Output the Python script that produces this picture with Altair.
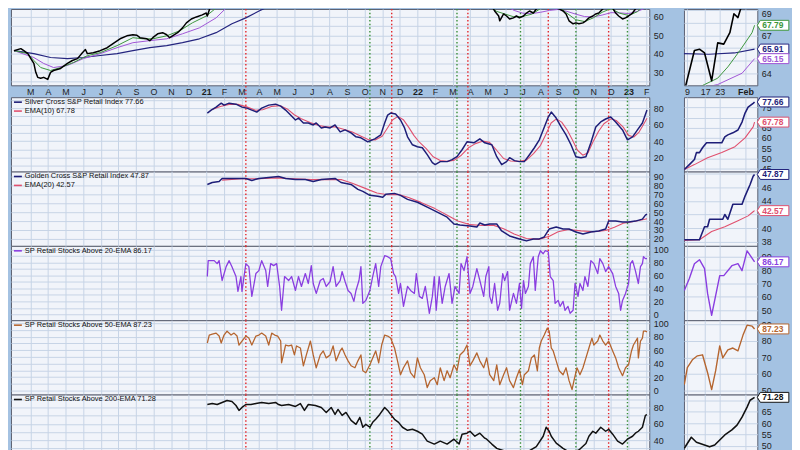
import json
import altair as alt
import pandas as pd

# ---------------- data ----------------
MONTH_TICKS = list(range(-10, 26))  # months since Jan 2021
MONTH_LABELS = ["M", "A", "M", "J", "J", "A", "S", "O", "N", "D", "21",
                "F", "M", "A", "M", "J", "J", "A", "S", "O", "N", "D", "22",
                "F", "M", "A", "M", "J", "J", "A", "S", "O", "N", "D", "23", "F"]
MINI_TICKS = [1, 6, 10, 17]          # trading-day index (Jan 2023)
MINI_LABELS = ["9", "17", "23", "Feb"]

RED_SIGNALS = [2.25, 10.54, 14.87, 19.44, 22.87]
GREEN_SIGNALS = [9.30, 14.25, 17.86, 21.01, 23.94]

# top panel: price + EMAs (month index, value)
PRICE = [(-10.93, 41.8), (-10.54, 42.9), (-10.37, 41.8), (-10.14, 40.2), (-9.97, 37.5), (-9.80, 34.9),
         (-9.69, 30.1), (-9.58, 27.4), (-9.41, 26.9), (-9.24, 27.4), (-9.01, 26.3), (-8.85, 30.1),
         (-8.68, 31.1), (-8.28, 32.2), (-7.89, 34.9), (-7.61, 36.5), (-7.32, 37.5), (-7.04, 40.7),
         (-6.87, 42.4), (-6.76, 40.2), (-6.42, 40.7), (-6.03, 41.8), (-5.63, 43.4), (-5.30, 45.6),
         (-4.90, 48.2), (-4.51, 49.8), (-4.17, 50.4), (-3.94, 50.1), (-3.77, 48.8), (-3.38, 48.2),
         (-3.21, 47.2), (-3.04, 48.8), (-2.76, 50.9), (-2.48, 51.5), (-2.25, 50.4), (-2.08, 48.8),
         (-1.92, 49.8), (-1.63, 51.5), (-1.35, 54.1), (-1.13, 56.8), (-0.85, 58.9), (-0.56, 60.0),
         (-0.23, 61.1), (0.00, 62.1), (0.06, 60.5), (0.28, 66.9), (0.45, 72.0), (1.0, 88), (1.5, 85),
         (2.0, 88), (2.5, 92), (3.0, 90), (3.5, 92), (4.0, 93), (4.5, 90), (5.0, 94), (5.5, 96),
         (6.0, 93), (6.5, 94), (7.0, 90), (7.5, 92), (8.0, 88), (8.5, 90), (9.0, 88), (9.5, 92),
         (10.0, 96), (10.3, 100), (10.7, 98), (11.0, 92), (11.5, 88), (12.0, 84), (12.5, 78),
         (13.0, 80), (13.5, 82), (14.0, 80), (14.5, 74), (15.0, 72), (15.5, 70), (15.9, 71),
         (16.11, 68.6), (16.23, 65.9), (16.39, 63.2), (16.62, 60.5), (16.68, 57.9), (16.90, 61.6),
         (17.07, 60.5), (17.24, 58.9), (17.46, 59.5), (17.63, 60.5), (17.80, 59.5), (18.03, 60.5),
         (18.20, 62.1), (18.37, 63.2), (18.59, 62.1), (18.76, 64.3), (18.93, 66.9), (19.15, 69.6),
         (19.32, 67.5), (19.49, 69.1), (19.72, 66.9), (19.89, 64.8), (20.06, 64.3), (20.28, 63.2),
         (20.45, 61.6), (20.62, 57.9), (20.85, 56.3), (21.01, 56.8), (21.18, 56.3), (21.41, 56.8),
         (21.58, 57.9), (21.75, 59.5), (21.97, 60.5), (22.14, 61.6), (22.31, 62.1), (22.59, 64.8),
         (22.87, 65.9), (23.10, 64.8), (23.27, 62.1), (23.44, 60.5), (23.66, 58.9), (23.83, 59.5),
         (24.00, 60.5), (24.23, 62.1), (24.39, 64.3), (24.68, 66.9), (24.85, 68.6), (25.07, 71.2)]
EMA20 = [(-10.93, 41.8), (-10.14, 40.2), (-9.80, 36.5), (-9.41, 32.7), (-8.85, 31.1), (-8.28, 32.7),
         (-7.55, 35.4), (-6.76, 39.1), (-6.03, 40.7), (-5.07, 44.5), (-4.17, 48.8), (-3.61, 48.2),
         (-3.04, 48.2), (-2.25, 49.8), (-1.52, 52.5), (-0.79, 56.8), (0.0, 60.5), (0.56, 64.8),
         (0.85, 68.6), (1.5, 82), (2.5, 88), (3.5, 90), (4.5, 91), (5.5, 94), (6.5, 93), (7.5, 91),
         (8.5, 89), (9.5, 90), (10.5, 96), (11.2, 94), (12.0, 86), (13.0, 80), (14.0, 80), (15.0, 73),
         (15.8, 68), (16.5, 63), (17.0, 61.5), (17.5, 60), (18.0, 60.3), (18.5, 61.5), (19.0, 64.5),
         (19.5, 66.5), (20.0, 65.5), (20.5, 62), (21.0, 58.5), (21.5, 57.5), (22.0, 59.5), (22.5, 62.5),
         (23.0, 64.5), (23.5, 62), (24.0, 60.8), (24.5, 62.8), (25.07, 67.79)]
EMA50 = [(-10.93, 41.8), (-9.80, 38.1), (-9.24, 34.9), (-8.68, 32.7), (-7.89, 33.8), (-6.99, 37.5),
         (-6.03, 40.2), (-5.07, 43.4), (-4.17, 46.1), (-3.21, 47.2), (-2.25, 48.2), (-1.35, 50.9),
         (-0.39, 54.1), (0.56, 59.5), (1.13, 64.8), (1.46, 68.6), (2, 74), (3, 82), (4, 87), (5, 90),
         (6, 92), (7, 92), (8, 91), (9, 90), (10, 92), (11, 94), (12, 90), (13, 85), (14, 82), (15, 76),
         (16, 70), (16.5, 68), (17, 66), (17.5, 63.5), (18, 62), (18.5, 61.8), (19, 62.5), (19.5, 63.5),
         (20, 64), (20.5, 63), (21, 61.5), (21.5, 60.2), (22, 60), (22.5, 61), (23, 62.3), (23.5, 62.2),
         (24, 61.8), (24.5, 63), (25.07, 65.15)]
EMA200 = [(-10.93, 41.8), (-9.80, 40.2), (-8.85, 38.1), (-7.89, 37.5), (-6.99, 38.1), (-6.03, 39.2),
          (-5.07, 40.2), (-4.17, 41.8), (-3.21, 43.4), (-2.25, 44.5), (-1.35, 46.1), (-0.39, 48.2),
          (0.56, 51.5), (1.46, 56.3), (2.25, 59.5), (3.0, 63.2), (3.72, 66.4), (4.23, 68.6), (5, 72),
          (6, 76), (7, 79), (8, 81), (9, 83), (10, 85), (11, 87), (12, 87), (13, 86), (14, 84), (15, 80),
          (16, 76), (17, 73), (18, 71), (19.5, 69.5), (20.6, 68.4), (21.5, 67.3), (22.9, 66.3),
          (24.0, 65.6), (25.07, 65.91)]

# mini (last weeks) top panel (trading-day index, value)
M_PRICE = [(0, 62.3), (0.83, 63.2), (3.05, 65.8), (4.43, 65.9), (5.82, 65.6), (7.76, 63.4), (9.42, 66.4),
           (11.08, 66.3), (12.74, 67.2), (13.85, 68.7), (14.96, 68.4), (16.34, 69.7), (18.0, 70.8),
           (19.5, 71.5)]
M_EMA20 = [(0, 62.3), (5.8, 63.1), (9.4, 63.6), (12.2, 64.5), (15.5, 65.8), (18.8, 67.2), (19.5, 67.79)]
M_EMA50 = [(0, 62.5), (9.4, 63.1), (16.1, 64.0), (19.5, 65.15)]
M_EMA200 = [(0, 65.55), (7, 65.5), (14, 65.6), (19.5, 65.91)]

# Silver Cross panel
SILVER = [(0.06, 74), (0.28, 77.6), (0.56, 81.2), (0.85, 86), (1.01, 83.6), (1.30, 86), (1.69, 84.8),
          (2.03, 81.2), (2.31, 80), (2.59, 77.6), (2.87, 75.2), (3.15, 80), (3.55, 83.6), (3.94, 84.8),
          (4.23, 82.4), (4.51, 77.6), (4.79, 71.6), (5.07, 65.6), (5.24, 68), (5.52, 62), (5.80, 62),
          (6.08, 59.6), (6.25, 62), (6.54, 56), (6.76, 57.2), (7.04, 56), (7.32, 59.6), (7.61, 51.2),
          (7.89, 53.6), (8.23, 50), (8.51, 45.2), (8.79, 44), (9.18, 39.2), (9.58, 42.8), (9.92, 47.6),
          (10.14, 62), (10.31, 71.6), (10.48, 74), (10.76, 72.8), (11.04, 65.6), (11.27, 56),
          (11.44, 45.2), (11.72, 35.6), (12.00, 33.2), (12.28, 32), (12.56, 23.6), (12.85, 14),
          (13.01, 11.6), (13.30, 15.2), (13.69, 15.2), (13.97, 17.6), (14.25, 21.2), (14.54, 29.6),
          (14.82, 39.2), (15.21, 38), (15.55, 42.8), (15.83, 38), (16.23, 35.6), (16.51, 21.2),
          (16.79, 11.6), (17.07, 15.2), (17.24, 20), (17.52, 16.4), (17.80, 15.2), (18.08, 15.2),
          (18.37, 23.6), (18.65, 32), (18.93, 41.6), (19.15, 53.6), (19.44, 69.2), (19.61, 75.2),
          (19.89, 68), (20.17, 57.2), (20.45, 47.6), (20.73, 35.6), (21.01, 21.2), (21.30, 20),
          (21.58, 21.2), (21.86, 38), (22.14, 57.2), (22.42, 63.2), (22.70, 66.8), (22.99, 69.2),
          (23.27, 63.2), (23.66, 53.6), (23.94, 41.6), (24.23, 45.2), (24.51, 53.6), (24.79, 62),
          (25.05, 77.66)]
SILVER_EMA = [(0.3, 78), (0.8, 82), (1.3, 84.5), (1.8, 84.5), (2.3, 81.5), (2.8, 77.5), (3.2, 78), (3.7, 82),
              (4.2, 83), (4.6, 79), (5.0, 72), (5.4, 67), (5.9, 62.5), (6.4, 59), (6.9, 57), (7.3, 57.5),
              (7.8, 54.5), (8.3, 51), (8.8, 46), (9.2, 42), (9.6, 41.5), (10.0, 46), (10.3, 56), (10.6, 66),
              (10.9, 70), (11.2, 66), (11.5, 57), (11.8, 47), (12.1, 39), (12.5, 31), (12.9, 21),
              (13.3, 16.5), (13.7, 15.5), (14.1, 17), (14.5, 23), (14.9, 32), (15.3, 37), (15.7, 40),
              (16.1, 38.5), (16.5, 29), (16.9, 19), (17.3, 16), (17.8, 15.5), (18.2, 17), (18.6, 25),
              (19.0, 35), (19.3, 48), (19.6, 62), (19.9, 67), (20.2, 63), (20.5, 54), (20.8, 42), (21.1, 29),
              (21.4, 23), (21.7, 26), (22.0, 40), (22.3, 52), (22.6, 61), (23.0, 67), (23.3, 65), (23.7, 57),
              (24.0, 47), (24.3, 45), (24.6, 51), (24.9, 62), (25.05, 67.78)]
M_SILVER = [(0.28, 44.5), (1.66, 46.9), (3.05, 49.4), (3.60, 52.8), (4.43, 52.8), (5.26, 55.2), (6.37, 57.6),
            (10.53, 57.6), (11.36, 60.5), (12.19, 61.5), (13.57, 62.5), (14.96, 63.9), (16.07, 67.8),
            (16.90, 72.2), (17.73, 75.1), (19.11, 77.0), (19.5, 77.66)]
M_SILVER_EMA = [(0.28, 44.5), (3.05, 46.9), (6.65, 50.3), (10.53, 52.8), (14.13, 55.7), (16.9, 60),
                (19.11, 65.4), (19.5, 67.78)]

# Golden Cross panel
GOLDEN = [(0.06, 81.1), (0.34, 83.3), (0.73, 84.4), (0.90, 87.8), (1.46, 87.8), (2.25, 87.8), (2.59, 85.6),
          (2.99, 87.8), (3.55, 88.9), (4.11, 90), (4.51, 87.8), (5.07, 86.7), (5.63, 86.7), (6.08, 84.4),
          (6.54, 86.7), (7.32, 87.8), (7.66, 83.3), (8.23, 81.1), (8.62, 75.6), (8.90, 73.3), (9.30, 68.9),
          (9.75, 67.8), (10.03, 66.7), (10.20, 70), (10.70, 71.1), (11.04, 68.9), (11.44, 64.4),
          (12.0, 61.1), (12.56, 55.6), (13.13, 50), (13.69, 44.4), (14.08, 36.7), (14.42, 35.6),
          (14.99, 34.4), (15.38, 33.3), (15.55, 37.8), (15.83, 35.6), (16.11, 36.7), (16.51, 36.7),
          (16.79, 28.9), (17.24, 23.3), (17.80, 20), (18.20, 17.8), (18.59, 20), (18.93, 20), (19.21, 22.2),
          (19.49, 31.1), (19.89, 33.3), (20.28, 31.1), (20.62, 31.1), (21.01, 27.8), (21.41, 25.6),
          (21.86, 27.8), (22.31, 28.9), (22.70, 31.1), (22.87, 40), (23.27, 40), (23.66, 38.9), (24.0, 38.9),
          (24.39, 40), (24.79, 42.2), (24.96, 46.7), (25.05, 47.87)]
GOLDEN_EMA = [(0.9, 86), (2, 87.5), (3, 87.5), (4, 88.5), (5, 87.5), (6, 86.5), (7, 86.8), (7.7, 86.5),
              (8.3, 82.5), (9, 77), (9.7, 71.5), (10.3, 69.5), (10.9, 70), (11.5, 66.5), (12.2, 61), (13, 54),
              (13.7, 46.5), (14.3, 40), (15, 36), (15.7, 35), (16.3, 35.5), (16.9, 31.5), (17.5, 25.5),
              (18.2, 20.5), (18.9, 19.5), (19.5, 23), (20, 28), (20.6, 30.5), (21.3, 29), (22, 28),
              (22.7, 29.5), (23.2, 33), (23.7, 37.5), (24.3, 39.5), (24.8, 41.5), (25.05, 42.57)]
M_GOLDEN = [(0.28, 38.3), (4.43, 38.3), (5.82, 40.2), (6.65, 40.2), (7.20, 41.3), (10.8, 41.3), (11.36, 42.0),
            (12.19, 41.3), (13.57, 43.5), (16.07, 43.5), (16.90, 44.7), (18.28, 46.4), (19.11, 47.6),
            (19.5, 47.87)]
M_GOLDEN_EMA = [(0.28, 38.2), (4.43, 38.3), (7.76, 39.5), (11.36, 40.2), (14.96, 41.1), (17.73, 41.8),
                (19.11, 42.4), (19.5, 42.57)]

# % above 20-EMA
ABOVE20 = [(0.06, 58.5), (0.11, 83.1), (0.45, 83.1), (0.62, 78.5), (0.73, 83.1), (0.90, 52.3), (1.13, 73.8),
           (1.30, 83.1), (1.46, 73.8), (1.69, 58.5), (1.80, 35.4), (1.97, 58.5), (2.03, 35.4), (2.25, 78.5),
           (2.42, 73.8), (2.59, 27.7), (2.82, 63.1), (2.99, 67.7), (3.15, 83.1), (3.38, 67.7), (3.49, 43.1),
           (3.66, 78.5), (3.83, 75.4), (4.00, 78.5), (4.17, 43.1), (4.28, 6.2), (4.45, 58.5), (4.68, 52.3),
           (4.85, 58.5), (5.07, 36.9), (5.24, 58.5), (5.41, 43.1), (5.63, 63.1), (5.80, 47.7), (5.97, 75.4),
           (6.08, 47.7), (6.25, 32.3), (6.48, 52.3), (6.65, 55.4), (6.82, 43.1), (7.04, 50.8), (7.21, 73.8),
           (7.38, 43.1), (7.61, 52.3), (7.72, 66.2), (7.89, 50.8), (8.06, 36.9), (8.23, 32.3), (8.39, 20),
           (8.51, 36.9), (8.68, 52.3), (8.79, 73.8), (8.90, 16.9), (9.07, 21.5), (9.30, 36.9), (9.46, 58.5),
           (9.63, 78.5), (9.80, 43.1), (9.92, 73.8), (10.14, 90.8), (10.31, 89.2), (10.48, 86.2),
           (10.65, 63.1), (10.76, 58.5), (10.93, 32.3), (11.04, 47.7), (11.21, 12.3), (11.44, 43.1),
           (11.61, 36.9), (11.83, 32.3), (11.94, 63.1), (12.11, 27.7), (12.28, 24.6), (12.45, 43.1),
           (12.68, 1.5), (12.85, 27.7), (12.96, 58.5), (13.07, 6.2), (13.24, 58.5), (13.41, 16.9),
           (13.58, 43.1), (13.80, 63.1), (13.97, 16.9), (14.14, 43.1), (14.37, 32.3), (14.48, 78.5),
           (14.65, 67.7), (14.82, 89.2), (14.99, 32.3), (15.15, 43.1), (15.38, 70.8), (15.55, 52.3),
           (15.77, 27.7), (15.89, 58.5), (16.06, 73.8), (16.11, 27.7), (16.23, 16.9), (16.39, 47.7),
           (16.56, 6.2), (16.68, 16.9), (16.85, 63.1), (16.96, 52.3), (17.13, 66.2), (17.24, 6.2),
           (17.46, 32.3), (17.63, 16.9), (17.80, 47.7), (17.92, 9.2), (18.03, 52.3), (18.14, 32.3),
           (18.31, 43.1), (18.42, 78.5), (18.59, 89.2), (18.70, 36.9), (18.87, 89.2), (18.99, 98.5),
           (19.15, 93.8), (19.27, 98.5), (19.44, 96.9), (19.55, 58.5), (19.72, 52.3), (19.83, 16.9),
           (20.00, 21.5), (20.11, 12.3), (20.28, 20), (20.39, 6.2), (20.56, 12.3), (20.68, 1.5),
           (20.85, 6.2), (20.96, 47.7), (21.13, 27.7), (21.24, 47.7), (21.41, 36.9), (21.52, 58.5),
           (21.69, 43.1), (21.86, 83.1), (22.03, 78.5), (22.25, 63.1), (22.37, 86.2), (22.54, 78.5),
           (22.70, 66.2), (22.87, 73.8), (23.10, 63.1), (23.27, 43.1), (23.44, 32.3), (23.55, 6.2),
           (23.66, 21.5), (23.83, 32.3), (24.00, 47.7), (24.11, 78.5), (24.23, 83.1), (24.39, 67.7),
           (24.56, 47.7), (24.68, 73.8), (24.79, 78.5), (24.85, 89.2), (24.96, 86.2), (25.05, 86.17)]
M_ABOVE20 = [(0.28, 64.8), (1.66, 73.7), (3.05, 84.8), (4.43, 87.8), (5.82, 81.1), (6.65, 62.6), (7.76, 46.3),
             (9.97, 75.9), (11.08, 75.9), (13.30, 83.3), (14.96, 84.8), (16.07, 79.6), (17.45, 94.4),
             (19.5, 86.17)]

# % above 50-EMA
ABOVE50 = [(0.06, 70.6), (0.17, 82.4), (0.34, 83.8), (0.56, 85.3), (0.73, 80.9), (0.85, 70.6), (1.01, 82.4),
           (1.18, 88.2), (1.41, 82.4), (1.58, 85.3), (1.75, 80.9), (1.86, 67.6), (2.03, 73.5), (2.25, 80.9),
           (2.42, 77.9), (2.59, 67.6), (2.82, 80.9), (2.99, 82.4), (3.15, 85.3), (3.38, 80.9), (3.55, 67.6),
           (3.72, 85.3), (3.89, 82.4), (4.06, 80.9), (4.23, 73.5), (4.28, 41.2), (4.51, 67.6), (4.68, 66.2),
           (4.85, 67.6), (5.01, 52.9), (5.13, 66.2), (5.35, 63.2), (5.52, 36.8), (5.69, 52.9), (5.92, 73.5),
           (6.08, 52.9), (6.25, 33.8), (6.48, 52.9), (6.65, 58.8), (6.82, 48.5), (7.04, 52.9), (7.21, 66.2),
           (7.38, 44.1), (7.61, 58.8), (7.72, 63.2), (7.89, 52.9), (8.06, 44.1), (8.23, 36.8), (8.45, 33.8),
           (8.62, 44.1), (8.79, 52.9), (8.90, 29.4), (9.07, 26.5), (9.30, 38.2), (9.46, 48.5), (9.63, 58.8),
           (9.80, 41.2), (9.97, 67.6), (10.14, 82.4), (10.31, 80.9), (10.48, 77.9), (10.70, 63.2),
           (10.87, 44.1), (11.04, 23.5), (11.21, 33.8), (11.44, 44.1), (11.61, 26.5), (11.83, 19.1),
           (12.00, 48.5), (12.17, 33.8), (12.39, 23.5), (12.56, 4.4), (12.73, 14.7), (12.96, 19.1),
           (13.13, 8.8), (13.30, 33.8), (13.52, 14.7), (13.69, 29.4), (13.86, 19.1), (14.08, 38.2),
           (14.25, 29.4), (14.42, 52.9), (14.65, 58.8), (14.82, 67.6), (14.99, 36.8), (15.15, 44.1),
           (15.38, 55.9), (15.55, 44.1), (15.77, 33.8), (15.94, 48.5), (16.11, 23.5), (16.34, 14.7),
           (16.51, 38.2), (16.68, 8.8), (16.90, 23.5), (17.07, 33.8), (17.24, 14.7), (17.46, 4.4),
           (17.63, 19.1), (17.80, 30.9), (17.97, 8.8), (18.08, 23.5), (18.31, 29.4), (18.48, 48.5),
           (18.65, 52.9), (18.82, 29.4), (18.93, 63.2), (19.04, 73.5), (19.21, 82.4), (19.38, 92.6),
           (19.49, 88.2), (19.61, 63.2), (19.72, 58.8), (19.89, 44.1), (20.06, 29.4), (20.28, 23.5),
           (20.45, 33.8), (20.62, 14.7), (20.79, 1.5), (20.90, 14.7), (21.07, 33.8), (21.24, 23.5),
           (21.41, 33.8), (21.58, 48.5), (21.75, 63.2), (21.92, 77.9), (22.03, 67.6), (22.25, 73.5),
           (22.37, 82.4), (22.54, 73.5), (22.70, 67.6), (22.87, 73.5), (23.10, 58.8), (23.27, 48.5),
           (23.44, 33.8), (23.66, 22.1), (23.83, 33.8), (24.00, 38.2), (24.17, 58.8), (24.28, 67.6),
           (24.51, 77.9), (24.56, 48.5), (24.68, 73.5), (24.79, 77.9), (24.85, 88.2), (24.96, 88.2),
           (25.05, 87.23)]
M_ABOVE50 = [(0.28, 53.6), (1.11, 63.8), (2.49, 68.6), (3.88, 71.0), (5.26, 71.6), (6.65, 60.8), (7.76, 50.6),
             (8.86, 62.0), (9.97, 77.0), (10.80, 69.8), (12.19, 74.6), (13.57, 75.7), (14.96, 74.0),
             (16.34, 83.5), (17.45, 89.5), (18.84, 88.9), (19.5, 87.23)]

# % above 200-EMA
ABOVE200 = [(0.06, 83.6), (0.34, 84.8), (0.62, 83.6), (0.90, 86.1), (1.18, 88.5), (1.46, 87.3), (1.69, 82.4),
            (1.86, 76.4), (2.03, 80), (2.25, 83.6), (2.54, 83.6), (2.82, 84.8), (3.15, 86.1), (3.55, 84.8),
            (3.94, 86.1), (4.11, 83.6), (4.28, 82.4), (4.68, 83.6), (5.07, 81.2), (5.35, 84.8), (5.58, 76.4),
            (5.80, 83.6), (6.20, 82.4), (6.54, 80), (6.82, 73.9), (7.10, 80), (7.32, 71.5), (7.49, 77.6),
            (7.72, 70.3), (7.94, 73.9), (8.23, 64.2), (8.51, 59.4), (8.73, 67.9), (8.90, 55.8), (9.07, 59.4),
            (9.30, 55.8), (9.46, 61.8), (9.63, 65.5), (9.86, 71.5), (10.14, 80), (10.31, 76.4), (10.48, 71.5),
            (10.70, 65.5), (10.93, 61.8), (11.15, 55.8), (11.44, 52.1), (11.72, 53.3), (12.00, 50.9),
            (12.28, 47.3), (12.56, 38.8), (12.96, 35.2), (13.30, 38.8), (13.69, 35.2), (14.08, 41.2),
            (14.37, 35.2), (14.54, 47.3), (14.82, 48.5), (14.99, 50.9), (15.27, 44.8), (15.55, 48.5),
            (15.83, 42.4), (15.94, 41.2), (16.23, 35.2), (16.51, 30), (17.07, 26), (17.63, 22), (18.20, 25),
            (18.76, 32), (19.15, 44.8), (19.32, 55.8), (19.49, 50.9), (19.61, 44.8), (19.89, 36.4),
            (20.28, 30), (20.73, 24), (21.18, 28), (21.58, 36), (21.75, 44.8), (21.97, 50.9), (22.14, 48.5),
            (22.42, 55.8), (22.70, 50.9), (22.87, 53.3), (23.10, 47.3), (23.38, 38.8), (23.66, 35.2),
            (23.94, 41.2), (24.23, 44.8), (24.39, 48.5), (24.56, 50.9), (24.79, 55.8), (24.96, 70.3),
            (25.05, 71.28)]
M_ABOVE200 = [(0.28, 49.0), (2.2, 53.8), (3.6, 51.6), (5.8, 50.4), (7.2, 49.6), (8.6, 50.4), (9.97, 52.6),
              (11.36, 54.8), (13.3, 57.0), (14.7, 59.1), (16.07, 62.6), (17.45, 67.0), (18.28, 70.0),
              (19.5, 71.28)]

SILVER_NAMES = ["Silver Cross S&P Retail Index 77.66", "EMA(10) 67.78"]
GOLDEN_NAMES = ["Golden Cross S&P Retail Index 47.87", "EMA(20) 42.57"]
A20_NAMES = ["SP Retail Stocks Above 20-EMA 86.17"]
A50_NAMES = ["SP Retail Stocks Above 50-EMA 87.23"]
A200_NAMES = ["SP Retail Stocks Above 200-EMA 71.28"]
TOP_NAMES = ["XRT", "EMA(20)", "EMA(50)", "EMA(200)"]

# ---------------- styling ----------------
BG = "#a4c2e2"
PLOT_BG = "#f1f4fa"
GRID = "#c6d3e6"
BORDER = "#5b6070"
TEXT = "#1e1e1e"
FONT = "Liberation Sans"
C_PRICE, C_E20, C_E50, C_E200 = "#000000", "#3c963c", "#a055d6", "#25257f"
C_NAVY, C_RED, C_PURPLE, C_BROWN, C_BLACK = "#1e1e78", "#e0506e", "#8a3ee0", "#b5652f", "#111111"
C_SIG_RED, C_SIG_GREEN = "#e3262b", "#3a8f3a"

MAIN_W, MINI_W = 644, 74
MAIN_AXIS = 35
X_DOMAIN = [-11.10, 25.18]
MINI_DOMAIN = [0.19, 20.25]
BOX_PATH = "M0,0L0.2,-0.33L2.1,-0.33L2.1,0.33L0.2,0.33Z"

month_expr = f"{json.dumps(MONTH_LABELS)}[datum.value + 10]"
mini_expr = f"{json.dumps(MINI_LABELS)}[indexof({json.dumps(MINI_TICKS)}, datum.value)]"

XAXIS_TOP = alt.Axis(values=MONTH_TICKS, orient="bottom", title=None, ticks=False, domain=False,
                     labelExpr=month_expr, labelFontSize=9, labelColor=TEXT, labelPadding=2,
                     labelFontWeight={"condition": {"test": "datum.value % 12 === 0", "value": "bold"},
                                      "value": "normal"},
                     grid=True, gridColor=GRID, labelFlush=False, labelOverlap=False, zindex=0)
XAXIS_GRID = alt.Axis(values=MONTH_TICKS, orient="bottom", title=None, ticks=False, domain=False,
                      labels=False, grid=True, gridColor=GRID, zindex=0)
MXAXIS_TOP = alt.Axis(values=MINI_TICKS, orient="bottom", title=None, ticks=False, domain=False,
                      labelExpr=mini_expr, labelFontSize=9, labelColor=TEXT, labelPadding=2,
                      labelFontWeight={"condition": {"test": "datum.value === 17", "value": "bold"},
                                       "value": "normal"},
                      grid=True, gridColor=GRID, labelFlush=False, labelOverlap=False, zindex=0)
MXAXIS_GRID = alt.Axis(values=MINI_TICKS, orient="bottom", title=None, ticks=False, domain=False,
                       labels=False, grid=True, gridColor=GRID, zindex=0)


def y_axis(vals, shown, nudge=None):
    extra = {}
    if nudge is not None:
        extra["labelOffset"] = {"condition": {"test": f"datum.value === {nudge}", "value": 4}, "value": 0}
    return alt.Axis(values=vals, orient="right", title=None, ticks=False, domain=False,
                    labelPadding=4, labelFontSize=9, labelColor=TEXT,
                    labelExpr=f"indexof({json.dumps(shown)}, datum.value) >= 0 ? datum.label : ''",
                    labelOverlap=False, labelFlush=False, grid=True, gridColor=GRID, gridWidth=1, zindex=0,
                    **extra)


def line_layer(pairs, name, width, xf, xenc, yenc, cscale, legend):
    df = pd.DataFrame(pairs, columns=[xf, "v"])
    df["series"] = name
    return alt.Chart(df).mark_line(clip=True, strokeWidth=width, strokeJoin="round").encode(
        x=xenc, y=yenc, color=alt.Color("series:N", scale=cscale, legend=legend))


def main_panel(series, ydom, yvals, shown, height, legend=False, top=False):
    xenc = alt.X("m:Q", scale=alt.Scale(domain=X_DOMAIN, nice=False, zero=False),
                 axis=XAXIS_TOP if top else XAXIS_GRID)
    yenc = alt.Y("v:Q", scale=alt.Scale(domain=ydom, nice=False, zero=False), axis=y_axis(yvals, shown))
    names = [s[0] for s in series]
    cscale = alt.Scale(domain=names, range=[s[1] for s in series])
    leg = None
    if legend:
        leg = alt.Legend(orient="none", legendX=2, legendY=0, title=None, symbolType="stroke",
                         symbolSize=64, symbolStrokeWidth=1.6, labelFontSize=7.5, labelColor="#111111",
                         padding=0, rowPadding=0, labelOffset=2, labelLimit=400)
    layers = []
    for sig, col in ((RED_SIGNALS, C_SIG_RED), (GREEN_SIGNALS, C_SIG_GREEN)):
        df = pd.DataFrame({"m": sig})
        if top:
            df["v"] = ydom[1]
            df["v2"] = ydom[0] - 6.4
            r = alt.Chart(df).mark_rule(color=col, strokeWidth=1.4, strokeDash=[1.5, 2.2]).encode(
                x=xenc, y=yenc, y2="v2:Q")
        else:
            r = alt.Chart(df).mark_rule(color=col, strokeWidth=1.4, strokeDash=[1.5, 2.2]).encode(x=xenc)
        layers.append(r)
    for name, color, width, pairs in reversed(series):
        layers.append(line_layer(pairs, name, width, "m", xenc, yenc, cscale, leg))
    return alt.layer(*layers).properties(width=MAIN_W, height=height)


def mini_panel(series, ydom, yvals, shown, height, boxes, top=False, nudge=None):
    xenc = alt.X("i:Q", scale=alt.Scale(domain=MINI_DOMAIN, nice=False, zero=False),
                 axis=MXAXIS_TOP if top else MXAXIS_GRID)
    yenc = alt.Y("v:Q", scale=alt.Scale(domain=ydom, nice=False, zero=False),
                 axis=y_axis(yvals, shown, nudge))
    names = [s[0] for s in series]
    cscale = alt.Scale(domain=names, range=[s[1] for s in series])
    layers = []
    for name, color, width, pairs in reversed(series):
        layers.append(line_layer(pairs, name, width, "i", xenc, yenc, cscale, None))
    bdf = pd.DataFrame({"series": [b[0] for b in boxes], "v": [b[1] for b in boxes],
                        "txt": [f"{b[1]:.2f}" for b in boxes]})
    bdf["i"] = MINI_DOMAIN[1]
    layers.append(alt.Chart(bdf).mark_point(shape=BOX_PATH, size=918, filled=True, fill="white",
                                             strokeWidth=1, opacity=1, fillOpacity=1, strokeOpacity=1).encode(
        x=xenc, y=yenc, stroke=alt.Stroke("series:N", scale=cscale, legend=None)))
    layers.append(alt.Chart(bdf).mark_text(align="left", baseline="middle", dx=5, fontSize=8.5,
                                           fontWeight="bold").encode(
        x=xenc, y=yenc, text="txt:N", color=alt.Color("series:N", scale=cscale, legend=None)))
    return alt.layer(*layers).properties(width=MINI_W, height=height)


def spacer(w, h):
    return alt.Chart(pd.DataFrame({"a": [0]})).mark_point(opacity=0).encode(
        x=alt.X("a:Q", axis=None), y=alt.Y("a:Q", axis=None)).properties(
        width=w, height=h, view=alt.ViewBackground(fillOpacity=0, strokeOpacity=0))


top_series = [(TOP_NAMES[0], C_PRICE, 1.5, PRICE), (TOP_NAMES[1], C_E20, 1.0, EMA20),
              (TOP_NAMES[2], C_E50, 1.0, EMA50), (TOP_NAMES[3], C_E200, 1.2, EMA200)]
top_mini = [(TOP_NAMES[0], C_PRICE, 1.6, M_PRICE), (TOP_NAMES[1], C_E20, 1.0, M_EMA20),
            (TOP_NAMES[2], C_E50, 1.0, M_EMA50), (TOP_NAMES[3], C_E200, 1.2, M_EMA200)]

panels = [
    main_panel(top_series, [23.11, 64.28], list(range(25, 65, 5)), [30, 40, 50, 60], 77, top=True),
    mini_panel(top_mini, [63.04, 69.08], list(range(64, 70)), [64, 67, 69], 77,
               [(TOP_NAMES[1], 67.79), (TOP_NAMES[3], 65.91), (TOP_NAMES[2], 65.15)], top=True, nudge=69),
    spacer(MAIN_W, 12), spacer(MINI_W, 12),
    main_panel([(SILVER_NAMES[0], C_NAVY, 1.5, SILVER), (SILVER_NAMES[1], C_RED, 1.1, SILVER_EMA)],
               [3.2, 93.2], list(range(10, 100, 10)), [20, 40, 60, 80], 75, legend=True),
    mini_panel([(SILVER_NAMES[0], C_NAVY, 1.6, M_SILVER), (SILVER_NAMES[1], C_RED, 1.1, M_SILVER_EMA)],
               [43.5, 80.0], list(range(45, 80, 5)), [45, 50, 55, 60, 65, 75], 75,
               [(SILVER_NAMES[0], 77.66), (SILVER_NAMES[1], 67.78)]),
    main_panel([(GOLDEN_NAMES[0], C_NAVY, 1.5, GOLDEN), (GOLDEN_NAMES[1], C_RED, 1.1, GOLDEN_EMA)],
               [12.2, 95.6], list(range(20, 100, 10)), list(range(20, 100, 10)), 75, legend=True),
    mini_panel([(GOLDEN_NAMES[0], C_NAVY, 1.6, M_GOLDEN), (GOLDEN_NAMES[1], C_RED, 1.1, M_GOLDEN_EMA)],
               [37.4, 48.3], list(range(38, 50, 2)), [38, 40, 44, 46], 75,
               [(GOLDEN_NAMES[0], 47.87), (GOLDEN_NAMES[1], 42.57)]),
    main_panel([(A20_NAMES[0], C_PURPLE, 1.3, ABOVE20)], [-9.2, 106.0], list(range(0, 110, 10)),
               [0, 20, 40, 60, 80, 100], 75, legend=True),
    mini_panel([(A20_NAMES[0], C_PURPLE, 1.4, M_ABOVE20)], [42.6, 98.1], list(range(50, 100, 10)),
               [50, 60, 70, 80, 90], 75, [(A20_NAMES[0], 86.17)]),
    main_panel([(A50_NAMES[0], C_BROWN, 1.3, ABOVE50)], [-5.9, 104.4], list(range(0, 110, 10)),
               [0, 20, 40, 60, 80, 100], 75, legend=True),
    mini_panel([(A50_NAMES[0], C_BROWN, 1.4, M_ABOVE50)], [47.6, 92.5], list(range(50, 100, 10)),
               [50, 60, 70, 80, 90], 75, [(A50_NAMES[0], 87.23)]),
    main_panel([(A200_NAMES[0], C_BLACK, 1.5, ABOVE200)], [27.9, 95.8], list(range(30, 100, 10)),
               [40, 60, 80], 56, legend=True),
    mini_panel([(A200_NAMES[0], C_BLACK, 1.6, M_ABOVE200)], [48.2, 72.5], list(range(50, 75, 5)),
               [50, 55, 60, 65], 56, [(A200_NAMES[0], 71.28)]),
]

chart = alt.concat(*panels, columns=2, spacing={"row": 0, "column": MAIN_AXIS}, bounds="flush",
                   align="each").resolve_scale(
    color="independent", stroke="independent").properties(
    padding={"left": 2, "top": -3, "right": 0, "bottom": 0}, background=BG
).configure(font=FONT).configure_view(fill=PLOT_BG, stroke=BORDER, strokeWidth=1)

chart.save("out.html", embed_options={"renderer": "svg", "actions": False})
